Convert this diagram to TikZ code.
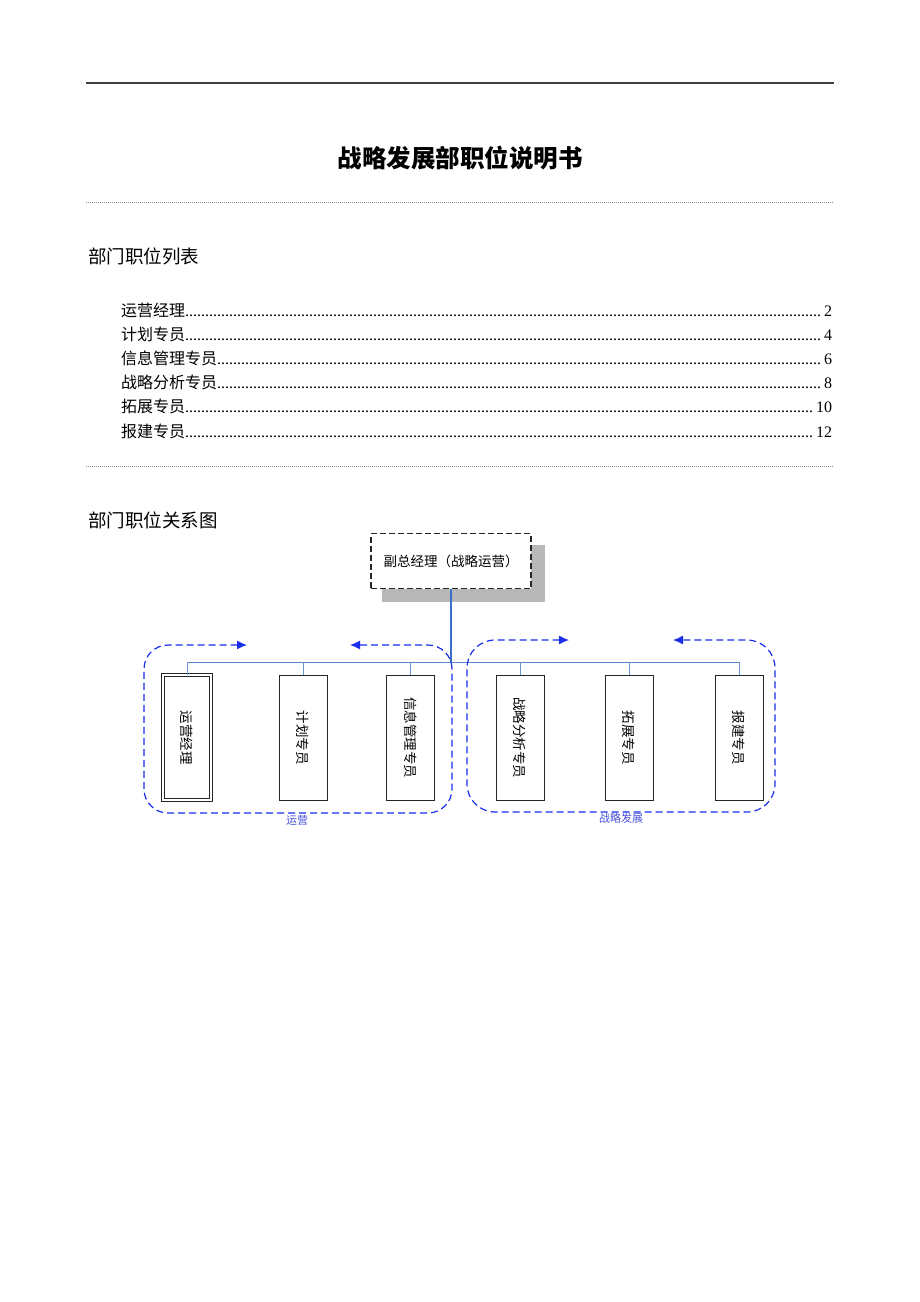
\documentclass[tikz,border=0pt]{standalone}
\usepackage{fontspec}
\usepackage{graphicx}
\setmainfont{Liberation Serif}
\newfontfamily\cjk{Noto Sans CJK SC}
\usetikzlibrary{arrows.meta}
\definecolor{grpblue}{RGB}{25,45,235}
\definecolor{lnblue}{RGB}{60,110,200}
\definecolor{lblblue}{RGB}{70,80,220}
\newcommand{\tocdots}{\leaders\hbox to 4pt{\hss.\hss}\hfill}
\begin{document}
\begin{tikzpicture}[x=1pt,y=-1pt,
  rule/.style={draw=black!75, line width=1.2pt},
  dotrule/.style={draw=black!45, line width=0.8pt, dash pattern=on 1pt off 1pt},
  heading/.style={anchor=west, inner sep=0pt, font=\cjk\fontsize{18.5}{18.5}\selectfont},
  tocrow/.style={anchor=west, inner sep=0pt, font=\fontsize{16}{16}\selectfont},
  posbox/.style={draw=black!85, line width=1pt, minimum width=48pt, minimum height=125pt, inner sep=0pt, font=\cjk\fontsize{13.5}{13.5}\selectfont},
  grp/.style={draw=grpblue, line width=1.2pt, dash pattern=on 7pt off 4pt, {Latex[length=10pt,width=9pt]}-{Latex[length=10pt,width=9pt]}},
  grplabel/.style={text=lblblue, inner sep=0pt, font=\cjk\fontsize{11}{11}\selectfont},
  drop/.style={draw=lnblue!75, line width=0.8pt}
]
\useasboundingbox (0,0) rectangle (920,1302);
% header rules
\coordinate (r1a) at (86,83);  \coordinate (r1b) at (834,83);
\coordinate (r2a) at (86,202); \coordinate (r2b) at (834,202);
\coordinate (r3a) at (86,466); \coordinate (r3b) at (834,466);
\draw[rule] (r1a) -- (r1b);
\draw[dotrule] (r2a) -- (r2b);
\draw[dotrule] (r3a) -- (r3b);
% title
\node[inner sep=0pt, font=\cjk\bfseries\fontsize{24.5}{24.5}\selectfont] (title) at (460,158) {战略发展部职位说明书};
% headings
\node[heading] (h1) at (88,256) {部门职位列表};
\node[heading] (h2) at (88,520) {部门职位关系图};
% table of contents
\node[tocrow] (t1) at (121,310) {\makebox[711pt]{{\cjk 运营经理}\tocdots 2}};
\node[tocrow] (t2) at (121,334) {\makebox[711pt]{{\cjk 计划专员}\tocdots 4}};
\node[tocrow] (t3) at (121,358) {\makebox[711pt]{{\cjk 信息管理专员}\tocdots 6}};
\node[tocrow] (t4) at (121,382) {\makebox[711pt]{{\cjk 战略分析专员}\tocdots 8}};
\node[tocrow] (t5) at (121,406) {\makebox[711pt]{{\cjk 拓展专员}\tocdots 10}};
\node[tocrow] (t6) at (121,431) {\makebox[711pt]{{\cjk 报建专员}\tocdots 12}};
% top box with shadow
\fill[black!28] (382,545) rectangle (545,602);
\node[draw=black!85, line width=1.2pt, dash pattern=on 6pt off 3pt, fill=white, minimum width=160pt, minimum height=55pt, inner sep=0pt, font=\cjk\fontsize{13.5}{13.5}\selectfont] (vp) at (451,561) {副总经理（战略运营）};
% position boxes
\node[posbox, double, double distance=1.6pt, line width=0.8pt] (b1) at (187,737.5) {\rotatebox{-90}{运营经理}};
\node[posbox] (b2) at (303,737.5) {\rotatebox{-90}{计划专员}};
\node[posbox] (b3) at (410.5,737.5) {\rotatebox{-90}{信息管理专员}};
\node[posbox] (b4) at (520,737.5) {\rotatebox{-90}{战略分析专员}};
\node[posbox] (b5) at (629,737.5) {\rotatebox{-90}{拓展专员}};
\node[posbox] (b6) at (739,737.5) {\rotatebox{-90}{报建专员}};
% connectors
\coordinate (bus) at (452,662);
\draw[draw=lnblue, line width=1.6pt] (vp.south) -- (vp.south |- bus);
\draw[draw=lnblue!85, line width=0.9pt] (b1.north |- bus) -- (b6.north |- bus);
\foreach \b in {b1,b2,b3,b4,b5,b6} {
  \draw[drop] (\b.north) -- (\b.north |- bus);
}
% group frames
\coordinate (g1s) at (247,645); \coordinate (g1e) at (350,645);
\draw[grp, rounded corners=24pt] (g1s) -- (144,645) -- (144,813) -- (452,813) -- (452,645) -- (g1e);
\coordinate (g2s) at (569,640); \coordinate (g2e) at (673,640);
\draw[grp, rounded corners=28pt] (g2s) -- (467,640) -- (467,812) -- (775,812) -- (775,640) -- (g2e);
\node[grplabel] (l1) at (297,820) {运营};
\node[grplabel] (l2) at (621,818) {战略发展};
\end{tikzpicture}
\end{document}
